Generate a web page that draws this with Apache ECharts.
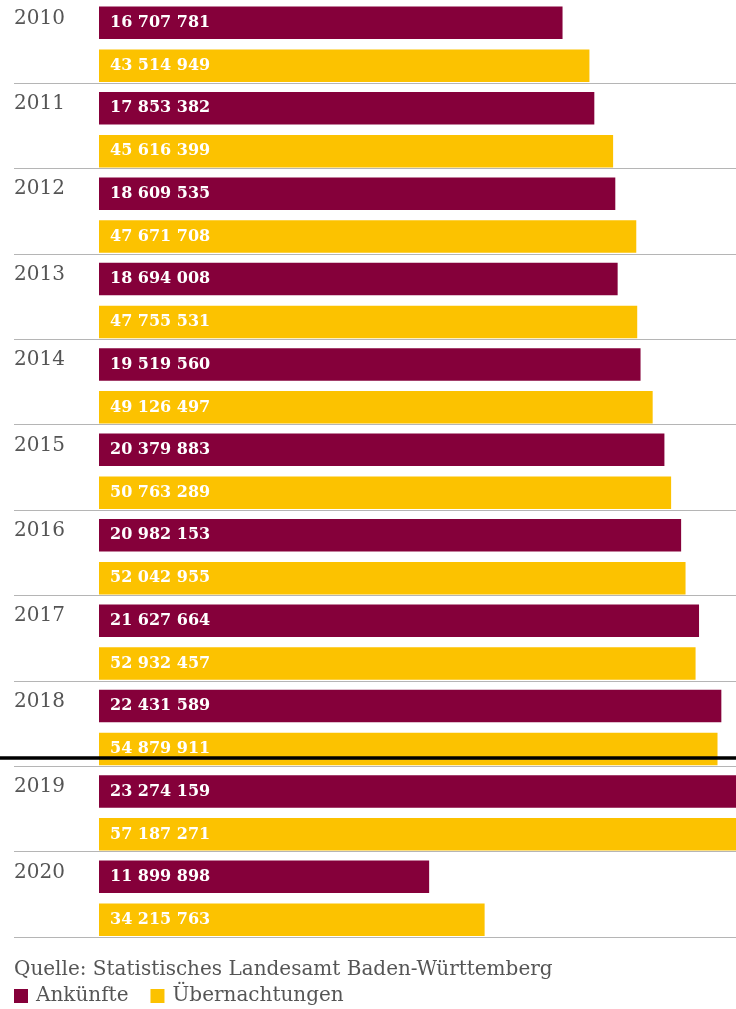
<!DOCTYPE html>
<html>
<head>
<meta charset="utf-8">
<script src="https://cdn.jsdelivr.net/npm/echarts@6/dist/echarts.min.js"></script>
<style>
html,body{margin:0;padding:0;background:#fff;}
#c{width:736px;height:1009px;}
</style>
</head>
<body>
<div id="c"></div>
<script>
const years = ['2010','2011','2012','2013','2014','2015','2016','2017','2018','2019','2020'];
const arrivals = [16707781, 17853382, 18609535, 18694008, 19519560, 20379883, 20982153, 21627664, 22431589, 23274159, 11899898];
const overnights = [43514949, 45616399, 47671708, 47755531, 49126497, 50763289, 52042955, 52932457, 54879911, 57187271, 34215763];
const seriesNames = ['Ankünfte', 'Übernachtungen'];
const sourceText = 'Quelle: Statistisches Landesamt Baden-Württemberg';

const RED = '#85003A';
const YELLOW = '#FCC200';
const FONT = 'DejaVu Serif';

function fmt(v) {
  return String(v).replace(/\B(?=(\d{3})+(?!\d))/g, ' ');
}

const chart = echarts.init(document.getElementById('c'), null, {renderer: 'canvas'});
const labelCfg = {
  show: true,
  position: 'insideLeft',
  distance: 11,
  color: '#fff',
  fontFamily: FONT,
  fontSize: 16,
  fontWeight: 'bold',
  formatter: p => fmt(p.value)
};

chart.setOption({
  animation: false,
  backgroundColor: '#fff',
  title: {
    text: sourceText,
    left: 14,
    top: 960,
    padding: 0,
    textStyle: {fontFamily: FONT, fontSize: 20, fontWeight: 'normal', color: '#555'}
  },
  legend: {
    left: 14,
    top: 986,
    padding: 0,
    itemWidth: 14,
    itemHeight: 14,
    itemGap: 22,
    icon: 'rect',
    data: seriesNames,
    textStyle: {fontFamily: FONT, fontSize: 20, color: '#555', padding: [0, 0, 0, 3]}
  },
  grid: [
    {left: 99, width: 637, top: 1.6, height: 939.4},
    {left: 14, right: 0, top: 83, height: 854}
  ],
  xAxis: [
    {gridIndex: 0, type: 'value', min: 0, max: 22960000, show: false},
    {gridIndex: 0, type: 'value', min: 0, max: 56520000, show: false},
    {gridIndex: 1, type: 'value', min: 0, max: 1, show: false}
  ],
  yAxis: [
    {gridIndex: 0, type: 'category', data: years, inverse: true,
     axisLine: {show: false}, axisTick: {show: false}, splitLine: {show: false},
     axisLabel: {show: true, interval: 0, align: 'left', margin: 85, verticalAlign: 'middle',
       formatter: '{y|{value}}',
       rich: {y: {fontFamily: FONT, fontSize: 20, color: '#555', padding: [0, 0, 52, 0]}}}},
    {gridIndex: 1, type: 'category', data: years.slice(1), inverse: true,
     axisLine: {show: false}, axisTick: {show: false}, axisLabel: {show: false},
     splitLine: {show: true, interval: 0, lineStyle: {color: '#b5b5b5', width: 1}}}
  ],
  series: [
    {name: seriesNames[0], type: 'bar', xAxisIndex: 0, yAxisIndex: 0, data: arrivals,
     barWidth: 32.5, barGap: '32%', itemStyle: {color: RED}, label: labelCfg},
    {name: seriesNames[1], type: 'bar', xAxisIndex: 1, yAxisIndex: 0, data: overnights,
     barWidth: 32.5, barGap: '32%', itemStyle: {color: YELLOW}, label: labelCfg}
  ],
  graphic: [
    {type: 'line', z: 100, shape: {x1: 0, y1: 758, x2: 736, y2: 758},
     style: {stroke: '#000', lineWidth: 3.5}}
  ]
});
</script>
</body>
</html>
